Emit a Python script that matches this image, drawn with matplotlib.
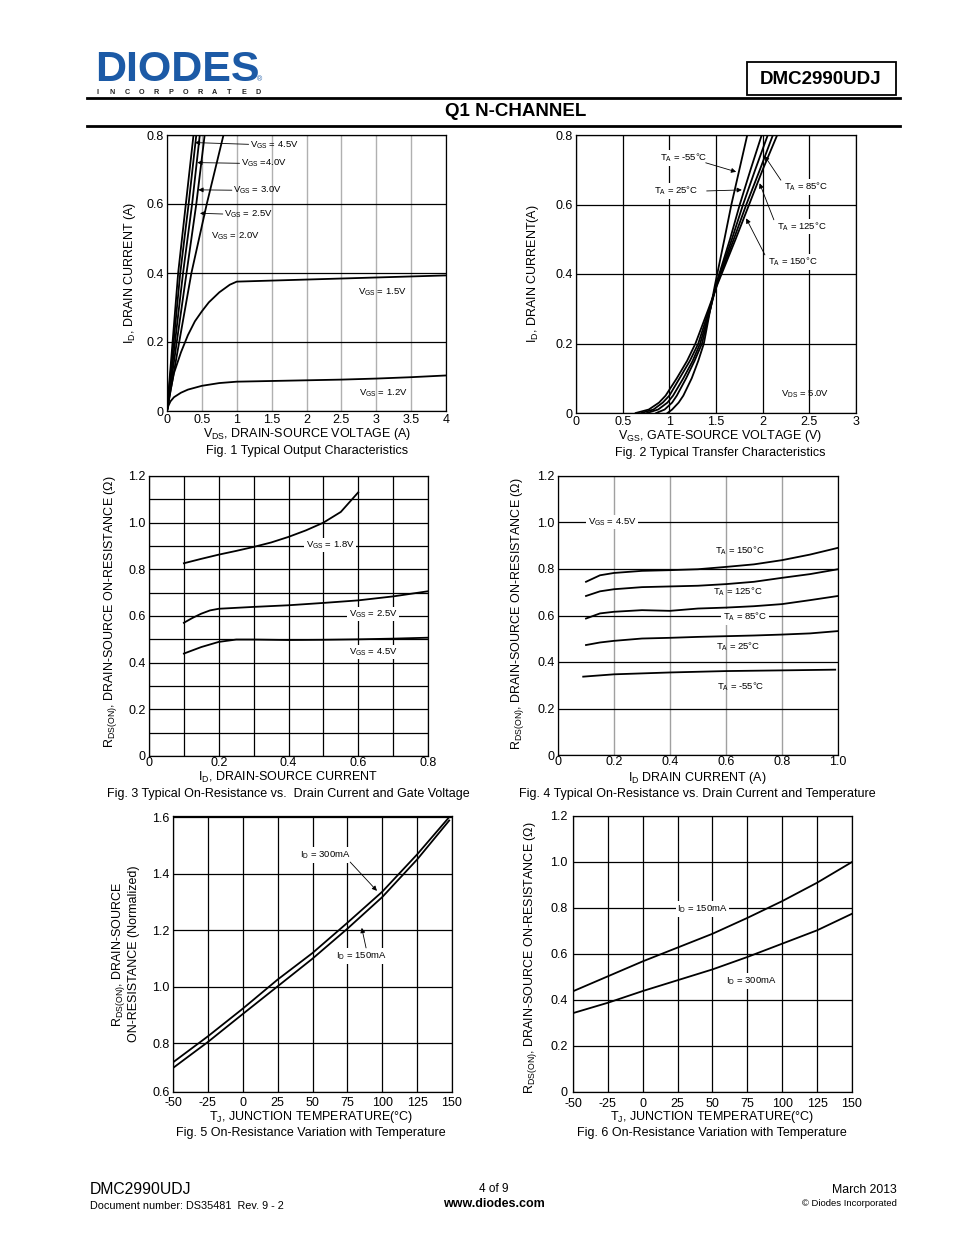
import matplotlib
matplotlib.use("Agg")
import matplotlib.pyplot as plt
from matplotlib.patches import Rectangle
from matplotlib.lines import Line2D

plt.rcParams['font.family'] = ['Liberation Sans', 'DejaVu Sans']
plt.rcParams['mathtext.default'] = 'regular'
plt.rcParams['axes.unicode_minus'] = False

W, H = 954, 1235

# ---------------- data ----------------
# Fig 1: output characteristics
f1_id_lin = [0, 0.4, 0.6, 0.8]
f1_vgs45_vds = [0, 0.16, 0.27, 0.38]
f1_vgs40_vds = [0, 0.19, 0.31, 0.42]
f1_vgs30_vds = [0, 0.23, 0.36, 0.47]
f1_vgs25_vds = [0, 0.28, 0.42, 0.54]
f1_vgs20_vds = [0, 0.35, 0.57, 0.81]
f1_vgs15_vds = [0, 0.05, 0.1, 0.2, 0.3, 0.4, 0.5, 0.6, 0.75, 0.9, 1.0, 1.5, 2, 2.5, 3, 3.5, 4]
f1_vgs15_id = [0, 0.06, 0.11, 0.17, 0.22, 0.26, 0.289, 0.315, 0.344, 0.366, 0.375, 0.378, 0.381,
               0.384, 0.387, 0.39, 0.393]
f1_vgs12_vds = [0, 0.02, 0.05, 0.1, 0.2, 0.3, 0.5, 0.75, 1.0, 1.5, 2, 2.5, 3, 3.5, 4]
f1_vgs12_id = [0, 0.015, 0.028, 0.04, 0.053, 0.062, 0.073, 0.081, 0.085, 0.087, 0.089, 0.091,
               0.094, 0.098, 0.103]

# Fig 2: transfer characteristics (VGS read at given ID)
f2_id = [0, 0.01, 0.03, 0.05, 0.1, 0.15, 0.2, 0.3, 0.37, 0.5, 0.6, 0.7, 0.8]
f2_vgs_m55 = [0.98, 1.03, 1.10, 1.15, 1.24, 1.31, 1.37, 1.44, 1.49, 1.59, 1.665, 1.75, 1.835]
f2_vgs_25 = [0.86, 0.95, 1.03, 1.08, 1.18, 1.27, 1.35, 1.44, 1.50, 1.65, 1.755, 1.87, 1.99]
f2_vgs_85 = [0.76, 0.88, 0.98, 1.04, 1.15, 1.25, 1.33, 1.44, 1.505, 1.67, 1.79, 1.92, 2.055]
f2_vgs_125 = [0.70, 0.83, 0.93, 1.00, 1.11, 1.22, 1.31, 1.43, 1.51, 1.69, 1.825, 1.97, 2.11]
f2_vgs_150 = [0.64, 0.78, 0.89, 0.96, 1.08, 1.19, 1.28, 1.42, 1.515, 1.71, 1.855, 2.0, 2.156]

# Fig 3: RDS(on) vs ID and VGS
f3_id_18 = [0.1, 0.15, 0.2, 0.25, 0.3, 0.35, 0.4, 0.45, 0.5, 0.55, 0.6]
f3_r_18 = [0.826, 0.845, 0.863, 0.879, 0.896, 0.915, 0.939, 0.967, 1.0, 1.046, 1.13]
f3_id_25 = [0.1, 0.125, 0.15, 0.175, 0.2, 0.3, 0.4, 0.5, 0.6, 0.7, 0.8]
f3_r_25 = [0.571, 0.592, 0.61, 0.624, 0.631, 0.639, 0.646, 0.656, 0.667, 0.684, 0.706]
f3_id_45 = [0.1, 0.15, 0.2, 0.25, 0.3, 0.4, 0.5, 0.6, 0.7, 0.8]
f3_r_45 = [0.439, 0.467, 0.489, 0.499, 0.499, 0.497, 0.498, 0.5, 0.503, 0.507]

# Fig 4: RDS(on) vs ID and temperature
f4_id = [0.1, 0.15, 0.2, 0.3, 0.4, 0.5, 0.6, 0.7, 0.8, 0.9, 1.0]
f4_r_150 = [0.745, 0.773, 0.783, 0.792, 0.795, 0.799, 0.809, 0.82, 0.838, 0.862, 0.891]
f4_r_125 = [0.684, 0.704, 0.713, 0.722, 0.725, 0.728, 0.735, 0.745, 0.762, 0.778, 0.799]
f4_r_85 = [0.587, 0.609, 0.616, 0.623, 0.62, 0.63, 0.634, 0.64, 0.649, 0.666, 0.684]
f4_r_25 = [0.473, 0.484, 0.491, 0.501, 0.504, 0.508, 0.511, 0.514, 0.518, 0.523, 0.533]
f4_id_m55 = [0.09, 0.2, 0.4, 0.6, 0.8, 0.99]
f4_r_m55 = [0.337, 0.347, 0.355, 0.361, 0.364, 0.367]

# Fig 5: normalized RDS(on) vs TJ
f5_tj = [-50, -25, 0, 25, 50, 75, 100, 125, 148]
f5_r_300 = [0.733, 0.825, 0.923, 1.026, 1.12, 1.227, 1.337, 1.469, 1.601]
f5_r_150 = [0.713, 0.805, 0.904, 1.002, 1.10, 1.206, 1.318, 1.451, 1.589]

# Fig 6: RDS(on) vs TJ
f6_tj = [-50, -25, 0, 25, 50, 75, 100, 125, 150]
f6_r_150 = [0.438, 0.503, 0.568, 0.628, 0.688, 0.757, 0.83, 0.91, 1.0]
f6_r_300 = [0.343, 0.388, 0.439, 0.486, 0.533, 0.587, 0.645, 0.703, 0.775]

# ---------------- figure ----------------
fig = plt.figure(figsize=(W / 100, H / 100), dpi=100)
fig.patch.set_facecolor('white')

TICK_FS = 9
LBL_FS = 9
CAP_FS = 9
ANN_FS = 6.8
LW = 1.3


def add_ax(l, t, r, b):
    ax = fig.add_axes([l / W, 1 - b / H, (r - l) / W, (b - t) / H])
    for s in ax.spines.values():
        s.set_linewidth(0.9)
        s.set_color('black')
    ax.tick_params(length=0, labelsize=TICK_FS, pad=2.5)
    ax.set_axisbelow(True)
    return ax


def ftext(x, y, s, **kw):
    kw.setdefault('fontsize', LBL_FS)
    kw.setdefault('ha', 'center')
    kw.setdefault('va', 'center')
    fig.text(x / W, 1 - y / H, s, **kw)


def arrow(ax, tail, tip):
    ax.annotate('', xy=tip, xytext=tail,
                arrowprops=dict(arrowstyle='-|>', lw=0.6, color='black',
                                mutation_scale=7, shrinkA=0, shrinkB=0))


wbox = dict(facecolor='white', edgecolor='none', pad=1.0)

# ---- header ----
ftext(95, 70, 'DIODES', fontsize=31, fontweight='bold', color='#1c5aa6', ha='left')
for i, ch in enumerate('INCORPORATED'):
    ftext(98 + i * 14.6, 92, ch, fontsize=5.2, fontweight='bold', color='#222222')
ftext(260, 80, '®', fontsize=5, color='#1c5aa6')
fig.add_artist(Rectangle((747 / W, 1 - 95 / H), 149 / W, 33 / H, transform=fig.transFigure,
                         fill=False, lw=1.3, edgecolor='black'))
ftext(821, 79, 'DMC2990UDJ', fontsize=13.5, fontweight='bold')
fig.add_artist(Line2D([87 / W, 900 / W], [1 - 98 / H] * 2, lw=2, color='black'))
ftext(516, 112, 'Q1 N-CHANNEL', fontsize=13.5, fontweight='bold')
fig.add_artist(Line2D([87 / W, 900 / W], [1 - 126 / H] * 2, lw=2, color='black'))

# ---- Fig 1 ----
ax = add_ax(167, 135, 446, 411)
ax.set_xlim(0, 4)
ax.set_ylim(0, 0.8)
ax.set_xticks([0, 0.5, 1, 1.5, 2, 2.5, 3, 3.5, 4])
ax.set_xticklabels(['0', '0.5', '1', '1.5', '2', '2.5', '3', '3.5', '4'])
ax.set_yticks([0, 0.2, 0.4, 0.6, 0.8])
ax.set_yticklabels(['0', '0.2', '0.4', '0.6', '0.8'])
ax.xaxis.grid(True, color='#b0b0b0', lw=1.0)
ax.yaxis.grid(True, color='black', lw=0.9)
for vds in [f1_vgs45_vds, f1_vgs40_vds, f1_vgs30_vds, f1_vgs25_vds, f1_vgs20_vds]:
    ax.plot(vds, f1_id_lin, color='black', lw=LW)
ax.plot(f1_vgs15_vds, f1_vgs15_id, color='black', lw=LW)
ax.plot(f1_vgs12_vds, f1_vgs12_id, color='black', lw=LW)
ax.text(1.19, 0.771, r'V$_{GS}$ = 4.5V', fontsize=ANN_FS, va='center')
arrow(ax, (1.17, 0.773), (0.40, 0.778))
ax.text(1.06, 0.719, r'V$_{GS}$ =4.0V', fontsize=ANN_FS, va='center')
arrow(ax, (1.04, 0.718), (0.434, 0.72))
ax.text(0.946, 0.64, r'V$_{GS}$ = 3.0V', fontsize=ANN_FS, va='center')
arrow(ax, (0.93, 0.64), (0.449, 0.641))
ax.text(0.817, 0.571, r'V$_{GS}$ = 2.5V', fontsize=ANN_FS, va='center')
arrow(ax, (0.80, 0.571), (0.473, 0.573))
ax.text(0.63, 0.507, r'V$_{GS}$ = 2.0V', fontsize=ANN_FS, va='center')
ax.text(2.74, 0.345, r'V$_{GS}$ = 1.5V', fontsize=ANN_FS, va='center')
ax.text(2.75, 0.052, r'V$_{GS}$ = 1.2V', fontsize=ANN_FS, va='center')
ftext(130, 273, r'I$_D$, DRAIN CURRENT (A)', rotation=90)
ftext(307, 434, r'V$_{DS}$, DRAIN-SOURCE VOLTAGE (A)')
ftext(307, 451, 'Fig. 1 Typical Output Characteristics', fontsize=CAP_FS)

# ---- Fig 2 ----
ax = add_ax(576, 135, 856, 413)
ax.set_xlim(0, 3)
ax.set_ylim(0, 0.8)
ax.set_xticks([0, 0.5, 1, 1.5, 2, 2.5, 3])
ax.set_xticklabels(['0', '0.5', '1', '1.5', '2', '2.5', '3'])
ax.set_yticks([0, 0.2, 0.4, 0.6, 0.8])
ax.set_yticklabels(['0', '0.2', '0.4', '0.6', '0.8'])
ax.grid(True, color='black', lw=0.9)
for vgs in [f2_vgs_m55, f2_vgs_25, f2_vgs_85, f2_vgs_125, f2_vgs_150]:
    ax.plot(vgs, f2_id, color='black', lw=LW)
ax.text(0.897, 0.734, r'T$_A$ = -55°C', fontsize=ANN_FS, va='center', bbox=wbox)
arrow(ax, (1.39, 0.72), (1.716, 0.694))
ax.text(0.833, 0.639, r'T$_A$ = 25°C', fontsize=ANN_FS, va='center', bbox=wbox)
arrow(ax, (1.40, 0.639), (1.777, 0.642))
ax.text(2.227, 0.65, r'T$_A$ = 85°C', fontsize=ANN_FS, va='center', bbox=wbox)
arrow(ax, (2.195, 0.67), (2.02, 0.74))
ax.text(2.152, 0.536, r'T$_A$ = 125°C', fontsize=ANN_FS, va='center', bbox=wbox)
arrow(ax, (2.12, 0.556), (1.967, 0.661))
ax.text(2.056, 0.435, r'T$_A$ = 150°C', fontsize=ANN_FS, va='center', bbox=wbox)
arrow(ax, (2.024, 0.455), (1.823, 0.56))
ax.text(2.195, 0.055, r'V$_{DS}$ = 5.0V', fontsize=ANN_FS, va='center')
ftext(533, 274, r'I$_D$, DRAIN CURRENT(A)', rotation=90)
ftext(720, 436, r'V$_{GS}$, GATE-SOURCE VOLTAGE (V)')
ftext(720, 453, 'Fig. 2 Typical Transfer Characteristics', fontsize=CAP_FS)

# ---- Fig 3 ----
ax = add_ax(149, 476, 428, 756)
ax.set_xlim(0, 0.8)
ax.set_ylim(0, 1.2)
ax.set_xticks([0, 0.2, 0.4, 0.6, 0.8])
ax.set_xticklabels(['0', '0.2', '0.4', '0.6', '0.8'])
ax.set_xticks([0.1, 0.3, 0.5, 0.7], minor=True)
ax.set_yticks([0, 0.2, 0.4, 0.6, 0.8, 1.0, 1.2])
ax.set_yticklabels(['0', '0.2', '0.4', '0.6', '0.8', '1.0', '1.2'])
ax.set_yticks([0.1, 0.3, 0.5, 0.7, 0.9, 1.1], minor=True)
ax.tick_params(which='minor', length=0)
ax.tick_params(axis='x', pad=1)
ax.grid(True, which='both', color='black', lw=0.9)
ax.plot(f3_id_18, f3_r_18, color='black', lw=LW)
ax.plot(f3_id_25, f3_r_25, color='black', lw=LW)
ax.plot(f3_id_45, f3_r_45, color='black', lw=LW)
ax.text(0.519, 0.904, r'V$_{GS}$ = 1.8V', fontsize=ANN_FS, ha='center', va='center', bbox=wbox)
ax.text(0.642, 0.609, r'V$_{GS}$ = 2.5V', fontsize=ANN_FS, ha='center', va='center', bbox=wbox)
ax.text(0.642, 0.446, r'V$_{GS}$ = 4.5V', fontsize=ANN_FS, ha='center', va='center', bbox=wbox)
ftext(111, 612, r'R$_{DS(ON)}$, DRAIN-SOURCE ON-RESISTANCE (Ω)', rotation=90)
ftext(288, 777, r'I$_D$, DRAIN-SOURCE CURRENT')
ftext(288, 794, 'Fig. 3 Typical On-Resistance vs.  Drain Current and Gate Voltage', fontsize=CAP_FS)

# ---- Fig 4 ----
ax = add_ax(558, 476, 838, 755)
ax.set_xlim(0, 1.0)
ax.set_ylim(0, 1.2)
ax.set_xticks([0, 0.2, 0.4, 0.6, 0.8, 1.0])
ax.set_xticklabels(['0', '0.2', '0.4', '0.6', '0.8', '1.0'])
ax.set_yticks([0, 0.2, 0.4, 0.6, 0.8, 1.0, 1.2])
ax.set_yticklabels(['0', '0.2', '0.4', '0.6', '0.8', '1.0', '1.2'])
ax.tick_params(axis='x', pad=1)
ax.xaxis.grid(True, color='#a0a0a0', lw=1.0)
ax.yaxis.grid(True, color='black', lw=0.9)
ax.plot(f4_id, f4_r_150, color='black', lw=LW)
ax.plot(f4_id, f4_r_125, color='black', lw=LW)
ax.plot(f4_id, f4_r_85, color='black', lw=LW)
ax.plot(f4_id, f4_r_25, color='black', lw=LW)
ax.plot(f4_id_m55, f4_r_m55, color='black', lw=LW)
ax.text(0.193, 1.002, r'V$_{GS}$ = 4.5V', fontsize=ANN_FS, ha='center', va='center', bbox=wbox)
ax.text(0.65, 0.877, r'T$_A$ = 150°C', fontsize=ANN_FS, ha='center', va='center')
ax.text(0.643, 0.701, r'T$_A$ = 125°C', fontsize=ANN_FS, ha='center', va='center')
ax.text(0.668, 0.594, r'T$_A$ = 85°C', fontsize=ANN_FS, ha='center', va='center', bbox=wbox)
ax.text(0.643, 0.465, r'T$_A$ = 25°C', fontsize=ANN_FS, ha='center', va='center')
ax.text(0.654, 0.292, r'T$_A$ = -55°C', fontsize=ANN_FS, ha='center', va='center')
ftext(518, 614, r'R$_{DS(ON)}$, DRAIN-SOURCE ON-RESISTANCE (Ω)', rotation=90)
ftext(697, 778, r'I$_D$ DRAIN CURRENT (A)')
ftext(697, 794, 'Fig. 4 Typical On-Resistance vs. Drain Current and Temperature', fontsize=CAP_FS)

# ---- Fig 5 ----
ax = add_ax(173, 816, 452, 1092)
ax.set_xlim(-50, 150)
ax.set_ylim(0.628, 1.605)
ax.set_xticks([-50, -25, 0, 25, 50, 75, 100, 125, 150])
ax.set_yticks([0.628, 0.8, 1.0, 1.2, 1.4, 1.6])
ax.set_yticklabels(['0.6', '0.8', '1.0', '1.2', '1.4', '1.6'])
ax.tick_params(axis='x', pad=3.5)
ax.grid(True, color='black', lw=0.9)
ax.plot(f5_tj, f5_r_300, color='black', lw=LW)
ax.plot(f5_tj, f5_r_150, color='black', lw=LW)
ax.text(41, 1.467, r'I$_D$ = 300mA', fontsize=ANN_FS, va='center', bbox=wbox)
arrow(ax, (77, 1.442), (96.2, 1.34))
ax.text(66.8, 1.11, r'I$_D$ = 150mA', fontsize=ANN_FS, va='center', bbox=wbox)
arrow(ax, (88.4, 1.138), (85.3, 1.209))
ftext(119, 954, r'R$_{DS(ON)}$, DRAIN-SOURCE', rotation=90)
ftext(134, 954, 'ON-RESISTANCE (Normalized)', rotation=90)
ftext(311, 1117, r'T$_J$, JUNCTION TEMPERATURE(°C)')
ftext(311, 1133, 'Fig. 5 On-Resistance Variation with Temperature', fontsize=CAP_FS)

# ---- Fig 6 ----
ax = add_ax(573, 816, 852, 1092)
ax.set_xlim(-50, 150)
ax.set_ylim(0, 1.2)
ax.set_xticks([-50, -25, 0, 25, 50, 75, 100, 125, 150])
ax.set_yticks([0, 0.2, 0.4, 0.6, 0.8, 1.0, 1.2])
ax.set_yticklabels(['0', '0.2', '0.4', '0.6', '0.8', '1.0', '1.2'])
ax.tick_params(axis='x', pad=4.5)
ax.tick_params(axis='y', pad=4)
ax.grid(True, color='black', lw=0.9)
ax.plot(f6_tj, f6_r_150, color='black', lw=LW)
ax.plot(f6_tj, f6_r_300, color='black', lw=LW)
ax.text(24.6, 0.796, r'I$_D$ = 150mA', fontsize=ANN_FS, va='center', bbox=wbox)
ax.text(59.7, 0.483, r'I$_D$ = 300mA', fontsize=ANN_FS, va='center', bbox=wbox)
ftext(531, 958, r'R$_{DS(ON)}$, DRAIN-SOURCE ON-RESISTANCE (Ω)', rotation=90)
ftext(712, 1117, r'T$_J$, JUNCTION TEMPERATURE(°C)')
ftext(712, 1133, 'Fig. 6 On-Resistance Variation with Temperature', fontsize=CAP_FS)

# ---- footer ----
ftext(90, 1190, 'DMC2990UDJ', fontsize=11.3, ha='left')
ftext(90, 1206, 'Document number: DS35481  Rev. 9 - 2', fontsize=7.8, ha='left')
ftext(494, 1189, '4 of 9', fontsize=8.5)
ftext(494, 1204, 'www.diodes.com', fontsize=9, fontweight='bold')
ftext(897, 1190, 'March 2013', fontsize=8.8, ha='right')
ftext(897, 1204, '© Diodes Incorporated', fontsize=6.8, ha='right')

fig.savefig('out.png', dpi=100, facecolor='white')
